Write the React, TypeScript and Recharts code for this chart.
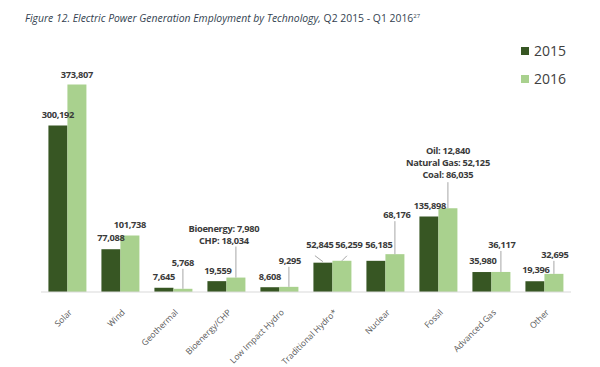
import React from "react";
import { BarChart, Bar, XAxis, YAxis, LabelList } from "recharts";

const categories = [
  "Solar",
  "Wind",
  "Geothermal",
  "Bioenergy/CHP",
  "Low Impact Hydro",
  "Traditional Hydro*",
  "Nuclear",
  "Fossil",
  "Advanced Gas",
  "Other",
];
const values2015 = [300192, 77088, 7645, 19559, 8608, 52845, 56185, 135898, 35980, 19396];
// Bioenergy/CHP and Fossil 2016 are the sums of their breakdowns
const values2016 = [373807, 101738, 5768, 26014, 9295, 56259, 68176, 151000, 36117, 32695];
const breakdown2016: (string[] | null)[] = [
  null,
  null,
  null,
  ["Bioenergy: 7,980", "CHP: 18,034"],
  null,
  null,
  null,
  ["Oil: 12,840", "Natural Gas: 52,125", "Coal: 86,035"],
  null,
  null,
];

const data = categories.map((name, i) => ({
  name,
  y2015: values2015[i],
  y2016: values2016[i],
}));

const DARK = "#375623";
const LIGHT = "#a9d18e";
const LABEL_COLOR = "#3a3a3a";
const LEADER = "#a6a6a6";
const FONT = "'Open Sans', sans-serif";

// label placement relative to the top centre of each bar
type Place = { dx: number; dy: number; line?: [number, number, number, number] };
const place2015: Place[] = [
  { dx: 0, dy: -11 },
  { dx: 0, dy: -11 },
  { dx: 0, dy: -11 },
  { dx: 1, dy: -10 },
  { dx: 0, dy: -10 },
  { dx: -3, dy: -18, line: [-8, -7, 0, -1] },
  { dx: 3, dy: -16 },
  { dx: 1, dy: -11 },
  { dx: 1, dy: -11 },
  { dx: 1, dy: -11 },
];
const place2016: Place[] = [
  { dx: 0, dy: -10 },
  { dx: 0, dy: -11 },
  { dx: 0, dy: -26, line: [0, -20, 0, 0] },
  { dx: -12, dy: -37, line: [0, -31, 0, 0] },
  { dx: 1, dy: -26, line: [0, -20, 0, 0] },
  { dx: 7, dy: -16, line: [5, -5, 0, 0] },
  { dx: 2, dy: -39, line: [0, -33, 0, 0] },
  { dx: 0, dy: -33, line: [0, -26, 0, 0] },
  { dx: 1, dy: -27, line: [0, -21, 0, 0] },
  { dx: 1, dy: -19, line: [0, -13, 0, 0] },
];

const fmt = (v: number) => v.toLocaleString("en-US");

function makeLabel(places: Place[], lines?: (string[] | null)[]) {
  return (props: any) => {
    const { x, y, width, index, value } = props;
    const p = places[index];
    const cx = Number(x) + Number(width) / 2;
    const top = Number(y);
    const textLines = (lines && lines[index]) || [fmt(Number(value))];
    const n = textLines.length;
    return (
      <g>
        {p.line && (
          <line
            x1={cx + p.line[0]}
            y1={top + p.line[1]}
            x2={cx + p.line[2]}
            y2={top + p.line[3]}
            stroke={LEADER}
            strokeWidth={1}
          />
        )}
        {textLines.map((t, k) => (
          <text
            key={k}
            x={cx + p.dx}
            y={top + p.dy - (n - 1 - k) * 12}
            dy="0.35em"
            textAnchor="middle"
            fontFamily={FONT}
            fontSize={9.3}
            fontWeight={700}
            letterSpacing={-0.3}
            fill={LABEL_COLOR}
          >
            {t}
          </text>
        ))}
      </g>
    );
  };
}

const AxisTick = (props: any) => {
  const { x, y, payload } = props;
  const ax = x + 5;
  const ay = y + 21;
  return (
    <text
      x={ax}
      y={ay}
      textAnchor="end"
      fontFamily={FONT}
      fontSize={8.5}
      fill="#595959"
      transform={`rotate(-45, ${ax}, ${ay})`}
    >
      {payload.value}
    </text>
  );
};

export default function App() {
  return (
    <div
      style={{
        position: "absolute",
        left: 0,
        top: 0,
        width: 600,
        height: 367,
        background: "#ffffff",
        overflow: "hidden",
      }}
    >
      <div
        style={{
          position: "absolute",
          left: 25,
          top: 11,
          fontFamily: FONT,
          fontSize: 10.4,
          color: "#333f50",
          whiteSpace: "nowrap",
        }}
      >
        <i>Figure 12. Electric Power Generation Employment by Technology,</i> Q2 2015 - Q1 2016
        <sup style={{ fontSize: 6 }}>27</sup>
      </div>

      {[
        { label: "2015", color: DARK, top: 41 },
        { label: "2016", color: LIGHT, top: 69 },
      ].map((l) => (
        <div
          key={l.label}
          style={{
            position: "absolute",
            left: 521,
            top: l.top,
            display: "flex",
            alignItems: "center",
            fontFamily: FONT,
            fontSize: 14,
            color: "#404040",
          }}
        >
          <span style={{ width: 8, height: 8, background: l.color, marginRight: 5 }} />
          {l.label}
        </div>
      ))}

      <BarChart
        width={600}
        height={367}
        data={data}
        margin={{ top: 70, right: 29, left: 41, bottom: 0 }}
        barCategoryGap="14%"
        barGap={0}
      >
        <XAxis
          dataKey="name"
          interval={0}
          height={75}
          tickLine={false}
          tickSize={0}
          tickMargin={0}
          axisLine={{ stroke: "#d9d9d9" }}
          tick={<AxisTick />}
        />
        <YAxis hide domain={[0, 400000]} />
        <Bar dataKey="y2015" fill={DARK} isAnimationActive={false}>
          <LabelList dataKey="y2015" content={makeLabel(place2015)} />
        </Bar>
        <Bar dataKey="y2016" fill={LIGHT} isAnimationActive={false}>
          <LabelList dataKey="y2016" content={makeLabel(place2016, breakdown2016)} />
        </Bar>
      </BarChart>
    </div>
  );
}
